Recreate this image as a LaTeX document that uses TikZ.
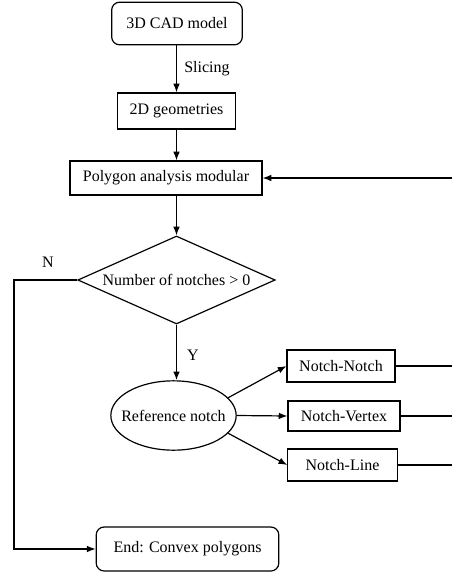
\documentclass[tikz,border=0pt]{standalone}
\usepackage{fontspec}
\setmainfont{Liberation Serif}
\usetikzlibrary{shapes.geometric, arrows.meta}

\tikzset{
    box/.style={draw, line width=0.9pt, inner sep=0pt},
    roundbox/.style={box, rounded corners=6pt},
    flow/.style={draw, line width=0.9pt, -{Latex[length=6.5pt, width=5pt]}},
    plain/.style={draw, line width=0.9pt}
}

\begin{document}
\begin{tikzpicture}[x=0.75pt, y=-0.75pt, font=\fontsize{12}{14}\selectfont]

    \useasboundingbox (0, 0) rectangle (452, 573);

    \node[roundbox, minimum width=98pt, minimum height=32pt] (cad) at (177, 23.5) {3D CAD model};
    \node[box, minimum width=88pt, minimum height=27pt] (geo) at (176.5, 111) {2D geometries};
    \node[box, minimum width=144pt, minimum height=25.5pt] (poly) at (166, 178) {Polygon analysis modular};
    \node[box, diamond, aspect=2.24, minimum width=148pt, minimum height=66pt] (dia) at (176.5, 280) {Number of notches > 0};
    \node[box, ellipse, minimum width=94pt, minimum height=52pt] (ref) at (173.5, 415.5) {\makebox[0pt]{Reference notch}};

    \node[box, minimum width=81pt, minimum height=24pt] (nn) at (341, 366) {Notch-Notch};
    \node[box, minimum width=84pt, minimum height=22.5pt] (nv) at (344, 416) {Notch-Vertex};
    \node[box, minimum width=82pt, minimum height=24pt] (nl) at (342.5, 465) {Notch-Line};

    \node[roundbox, minimum width=137pt, minimum height=33pt] (end) at (187.5, 549) {End: Convex polygons};

    \node (slicing) at (207, 69) {Slicing};
    \node (no) at (48, 262) {N};
    \node (yes) at (193, 355) {Y};

    \coordinate (back) at (452, 178);
    \coordinate (nleft) at (14, 280);
    \coordinate (nnout) at (452, 366);
    \coordinate (nvout) at (452, 416);
    \coordinate (nlout) at (452, 465);

    \draw[flow] (cad.south -| geo) -- (geo);
    \draw[flow] (geo) -- (geo |- poly.north);
    \draw[flow] (poly.south -| dia.north) -- (dia.north);
    \draw[flow] (back) -- (poly.east);
    \draw[flow] (dia.west) -- (nleft) |- (end.west);
    \draw[flow] (dia.south) -- (dia.south |- ref.north);

    \draw[flow] (ref.18) -- (nn.west);
    \draw[flow] (ref.east) -- (nv.west);
    \draw[flow] (ref.342) -- (nl.west);

    \draw[plain] (nn.east) -- (nnout);
    \draw[plain] (nv.east) -- (nvout);
    \draw[plain] (nl.east) -- (nlout);

\end{tikzpicture}
\end{document}
